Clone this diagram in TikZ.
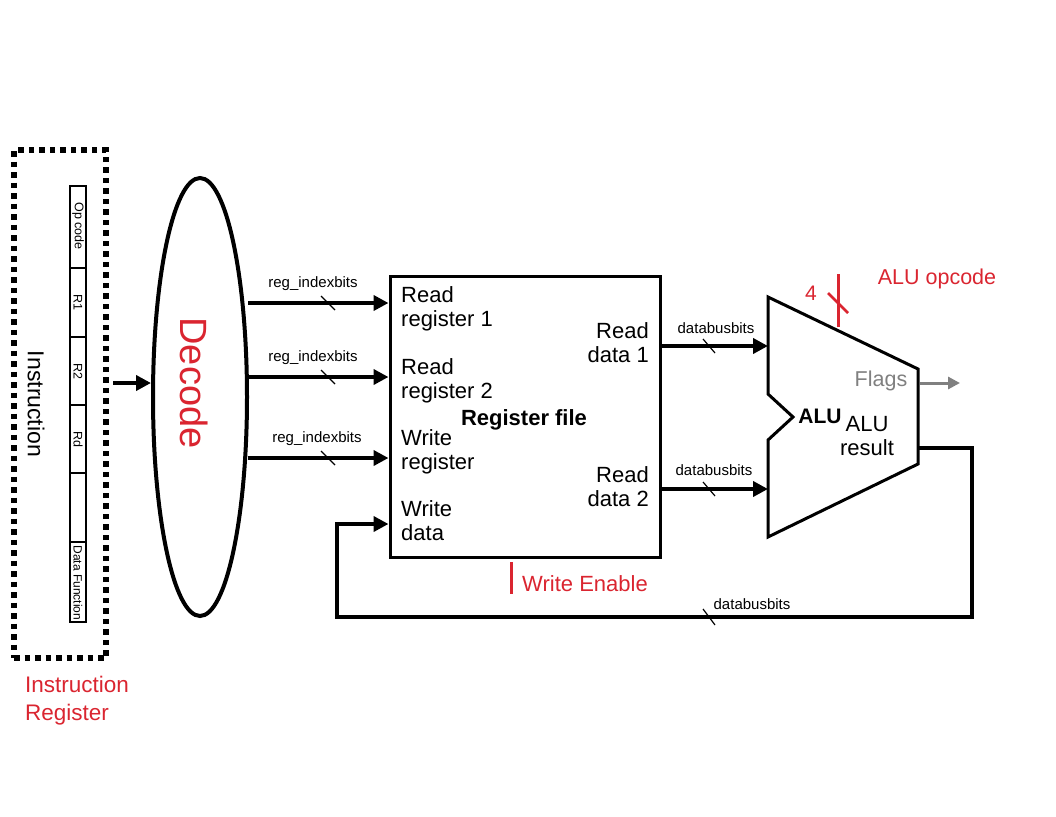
\documentclass[tikz,border=0pt]{standalone}
\usepackage{fontspec}
\setmainfont{Liberation Sans}
\usetikzlibrary{arrows.meta,shapes.geometric,calc}
\definecolor{myred}{RGB}{218,37,48}
\definecolor{mygray}{RGB}{128,128,128}
\begin{document}
\begin{tikzpicture}[x=1pt,y=-1pt,
  bus/.style={line width=4pt,-{Triangle[length=15pt,width=15pt]}},
  wire/.style={line width=4pt},
  slash/.style={line width=1.2pt},
  lbl/.style={font=\fontsize{15}{17}\selectfont,inner sep=0pt},
  big/.style={font=\fontsize{22}{24}\selectfont,inner sep=0pt,align=left},
  field/.style={font=\fontsize{12.5}{14}\selectfont,rotate=-90,inner sep=0pt}]
\useasboundingbox (0,0) rectangle (1056,816);
% Instruction register
\node[draw,line width=5.5pt,dash pattern=on 5.5pt off 5pt,minimum width=92pt,minimum height=508pt,inner sep=0pt] (ir) at (60,404) {};
\node[font=\fontsize{23}{26}\selectfont,rotate=-90,inner sep=0pt] (instr) at (36,404) {Instruction};
\draw[line width=1.5pt] (70,186) rectangle (86,622);
\foreach \y in {268,337,405,473,542} \draw[line width=1.5pt] (70,\y) -- (86,\y);
\node[field] (f1) at (78,226) {Op code};
\node[field] (f2) at (78,302) {R1};
\node[field] (f3) at (78,371) {R2};
\node[field] (f4) at (78,439) {Rd};
\node[field,font=\fontsize{12}{13}\selectfont] (f6) at (78,583) {Data Function};
\node[text=myred,font=\fontsize{22.5}{28}\selectfont,align=left,anchor=north west,inner sep=0pt] (irl) at (25,676) {Instruction\\Register};
% Decode
\node[draw,ellipse,line width=4pt,minimum width=94pt,minimum height=438pt,inner sep=0pt] (dec) at (200,397) {};
\node[text=myred,font=\fontsize{38}{42}\selectfont,rotate=-90,inner sep=0pt] (decl) at (194,383) {Decode};
\coordinate (ia) at (113,383);
\draw[bus] (ia) -- (dec.west |- ia);
% Register file
\node[draw,line width=3pt,minimum width=270pt,minimum height=281pt,inner sep=0pt] (rf) at (525,416.5) {};
\node[big,anchor=north west] (rr1) at (401,286) {Read\\register 1};
\node[big,anchor=north west] (rr2) at (401,358) {Read\\register 2};
\node[big,anchor=north west] (wr) at (401,429) {Write\\register};
\node[big,anchor=north west] (wd) at (401,500) {Write\\data};
\node[big,anchor=north east,align=right] (rd1) at (649,322) {Read\\data 1};
\node[big,anchor=north east,align=right] (rd2) at (649,466) {Read\\data 2};
\node[font=\bfseries\fontsize{22}{24}\selectfont,inner sep=0pt] (rfl) at (524,420) {Register file};
% decode outputs
\foreach \y/\n/\lx in {303/a/313,377/b/313,458/c/317}{
  \coordinate (s\n) at (248,\y);
  \draw[bus] (s\n) -- (rf.west |- s\n);
  \draw[slash] (321,\y-7) -- (335,\y+7);
  \node[lbl] (l\n) at (\lx,\y-19) {reg\_indexbits};
}
% ALU
\coordinate (a1) at (768,297);
\coordinate (a2) at (918,369);
\coordinate (a3) at (918,464);
\coordinate (a4) at (768,537);
\coordinate (a5) at (768,440);
\coordinate (a6) at (793,417);
\coordinate (a7) at (768,394);
\draw[line width=3pt,line join=miter] (a1) -- (a2) -- (a3) -- (a4) -- (a5) -- (a6) -- (a7) -- cycle;
\node[font=\bfseries\fontsize{21}{24}\selectfont,inner sep=0pt] (alu) at (820,416) {ALU};
\node[big,align=center] (alur) at (867,436) {ALU\\result};
\node[text=mygray,font=\fontsize{21.5}{24}\selectfont,inner sep=0pt] (flags) at (881,381) {Flags};
\coordinate (fo) at (960,383);
\draw[mygray,line width=3pt,-{Triangle[length=12pt,width=12pt]}] (920,383) -- (fo);
% data outputs
\coordinate (d1) at (660,346);
\coordinate (d2) at (660,489);
\draw[bus] (d1) -- (a1 |- d1);
\draw[bus] (d2) -- (a1 |- d2);
\draw[slash] (703,339) -- (715,353);
\draw[slash] (703,482) -- (715,496);
\node[lbl] (ld1) at (716,328) {databusbits};
\node[lbl] (ld2) at (714,470) {databusbits};
% ALU opcode
\coordinate (op) at (838,274);
\draw[myred,line width=3pt] (op) -- (838,327);
\draw[myred,line width=2.5pt] (828,293) -- (848,313);
\node[text=myred,font=\fontsize{21}{24}\selectfont,inner sep=0pt] (four) at (811,293) {4};
\node[text=myred,font=\fontsize{21.5}{24}\selectfont,inner sep=0pt] (opl) at (937,279) {ALU opcode};
% feedback
\coordinate (r0) at (918,448);
\coordinate (r1) at (972,448);
\coordinate (r2) at (972,617);
\coordinate (r3) at (337,617);
\coordinate (r4) at (337,524);
\draw[wire,line join=miter] (r0) -- (r1) -- (r2) -- (r3) -- (r4) -- (355,524);
\draw[bus] (355,524) -- (rf.west |- r4);
\draw[slash] (703,609) -- (715,625);
\node[lbl] (lf) at (752,604) {databusbits};
% write enable
\coordinate (we) at (511,562);
\draw[myred,line width=3pt] (we) -- (511,594);
\node[text=myred,font=\fontsize{22}{24}\selectfont,inner sep=0pt] (wel) at (585,584) {Write Enable};
\end{tikzpicture}
\end{document}
